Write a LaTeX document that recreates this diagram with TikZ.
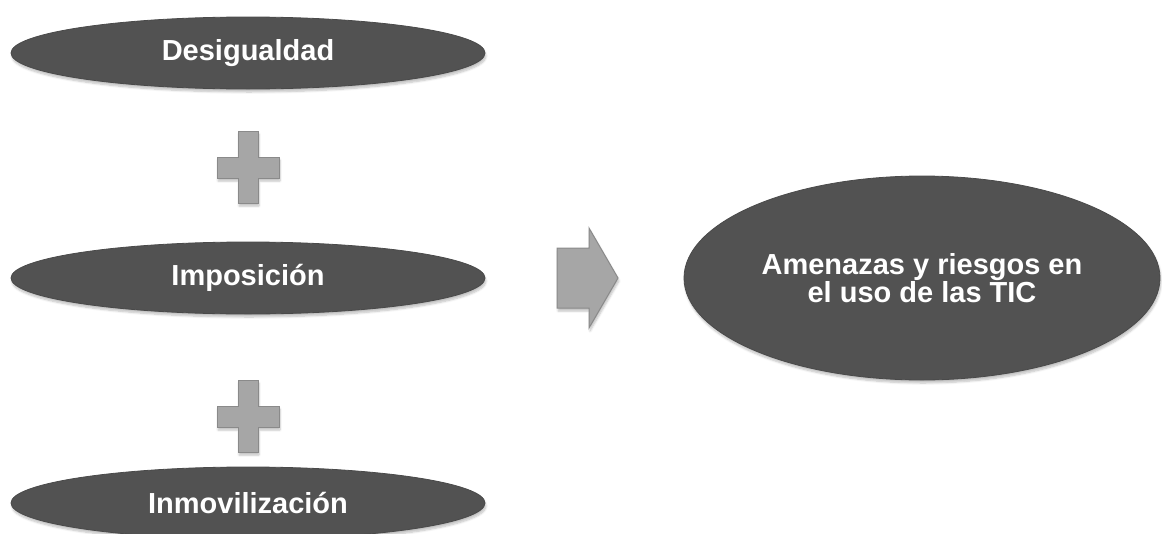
\documentclass[tikz,border=0pt]{standalone}
\usepackage{fontspec}
\setmainfont{Liberation Sans}
\usetikzlibrary{shapes.geometric,shadows.blur}
\definecolor{ovalfill}{HTML}{525252}
\definecolor{ovaledge}{HTML}{4A4A4A}
\definecolor{signfill}{HTML}{A6A6A6}
\definecolor{signedge}{HTML}{8A8A8A}
\tikzset{
  oval/.style={ellipse, fill=ovalfill, draw=ovaledge, line width=0.8pt,
    inner sep=0pt, text=white, font=\fontsize{29}{26}\selectfont\bfseries,
    align=center, blur shadow={shadow xshift=1pt, shadow yshift=-3pt,
    shadow blur steps=6, shadow opacity=25}},
  sign/.style={fill=signfill, draw=signedge, line width=1pt,
    blur shadow={shadow xshift=1pt, shadow yshift=-3pt,
    shadow blur steps=5, shadow opacity=25}}
}
\begin{document}
\begin{tikzpicture}[x=1pt,y=-1pt]
  \useasboundingbox (0,0) rectangle (1162,533);
  % left column of factors
  \node[oval, minimum width=474, minimum height=72] (des) at (248,53) {Desigualdad};
  \node[oval, minimum width=474, minimum height=72] (imp) at (248,278) {Imposición};
  \node[oval, minimum width=474, minimum height=72] (inm) at (248,503) {Inmovilización};
  % plus signs between the factors
  \foreach \cy/\nm in {167/p1, 416/p2}{
    \coordinate (\nm) at (248,\cy);
    \draw[sign] ([shift={(-10,-36)}]\nm) -- ++(20,0) -- ++(0,26) -- ++(21,0)
      -- ++(0,21) -- ++(-21,0) -- ++(0,25) -- ++(-20,0) -- ++(0,-25)
      -- ++(-21,0) -- ++(0,-21) -- ++(21,0) -- cycle;
  }
  % result
  \node[oval, minimum width=476, minimum height=204, align=center] (res) at (922,278)
    {Amenazas y riesgos en\\el uso de las TIC};
  % block arrow
  \coordinate (arr) at (557,278);
  \draw[sign] ([shift={(0,-30)}]arr) -- ++(32,0) -- ++(0,-20) -- ++(29,50)
    -- ++(-29,50) -- ++(0,-20) -- ++(-32,0) -- cycle;
\end{tikzpicture}
\end{document}
